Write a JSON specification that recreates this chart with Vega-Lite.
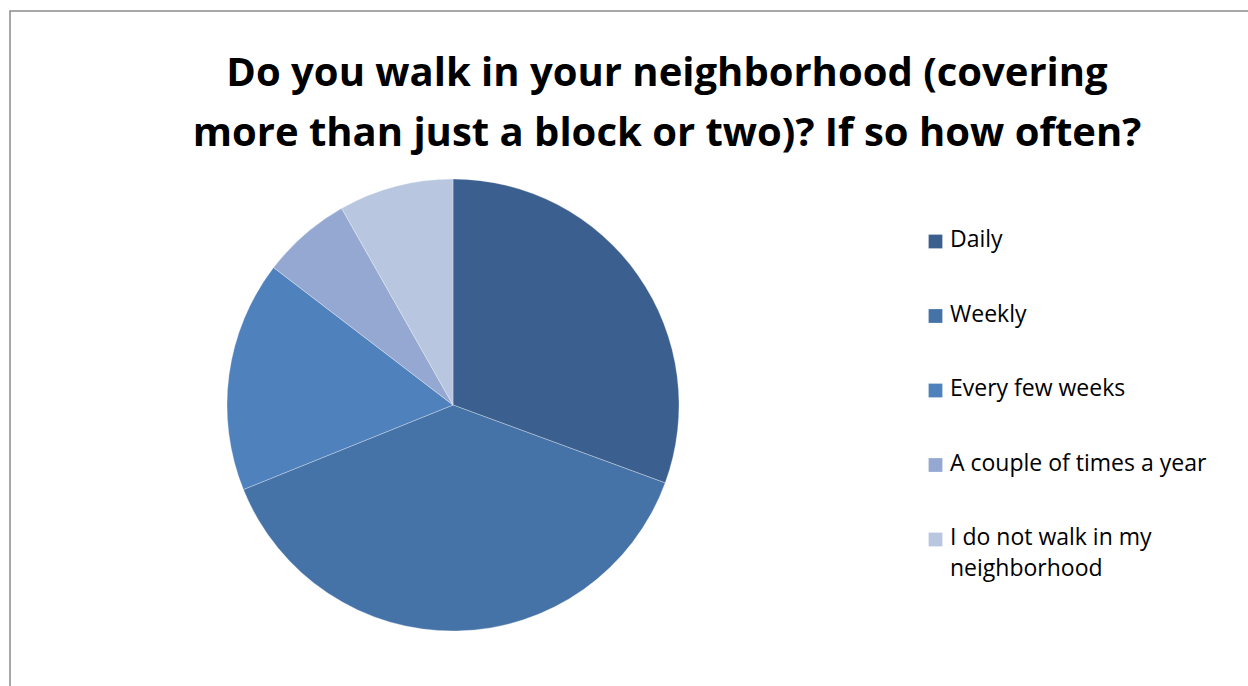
{
  "$schema": "https://vega.github.io/schema/vega-lite/v6.json",
  "autosize": {"type": "fit", "contains": "padding"},
  "width": 1248,
  "height": 686,
  "padding": {"left": 10, "top": 11, "right": -4, "bottom": -4},
  "background": "#ffffff",
  "view": {"stroke": "#8c8c8c", "strokeWidth": 1.5, "fill": "#ffffff"},
  "config": {
    "font": "Open Sans",
    "style": {"guide-label": {"lineHeight": 31, "dy": -12.5}}
  },
  "title": {
    "text": ["Do you walk in your neighborhood (covering", "more than just a block or two)? If so how often?"],
    "font": "Open Sans",
    "fontSize": 40,
    "fontWeight": "bold",
    "color": "#000000",
    "anchor": "middle",
    "dx": 36,
    "offset": -143,
    "lineHeight": 60
  },
  "data": {
    "values": [
      {"answer": "Daily", "share": 30.6, "ord": 1},
      {"answer": "Weekly", "share": 38.3, "ord": 2},
      {"answer": "Every few weeks", "share": 16.5, "ord": 3},
      {"answer": "A couple of times a year", "share": 6.4, "ord": 4},
      {"answer": "I do not walk in my neighborhood", "share": 8.2, "ord": 5}
    ]
  },
  "mark": {"type": "arc", "x": 443, "y": 394, "outerRadius": 226, "stroke": "#ffffff", "strokeWidth": 0.6, "strokeOpacity": 0.5},
  "encoding": {
    "theta": {"field": "share", "type": "quantitative", "stack": true},
    "order": {"field": "ord", "type": "quantitative"},
    "color": {
      "field": "answer",
      "type": "nominal",
      "scale": {
        "domain": ["Daily", "Weekly", "Every few weeks", "A couple of times a year", "I do not walk in my neighborhood"],
        "range": ["#3b5f8e", "#4573a8", "#4f81bd", "#94a8d1", "#b9c6e0"]
      },
      "legend": {
        "title": null,
        "orient": "none",
        "legendX": 914,
        "legendY": 219,
        "symbolType": "square",
        "symbolSize": 190,
        "symbolStrokeWidth": 0,
        "labelFont": "Open Sans",
        "labelFontSize": 23,
        "labelBaseline": "top",
        "labelColor": "#000000",
        "labelOffset": 3,
        "labelLimit": 400,
        "rowPadding": 51.5,
        "labelExpr": "datum.label == 'I do not walk in my neighborhood' ? ['I do not walk in my', 'neighborhood'] : datum.label"
      }
    }
  }
}
